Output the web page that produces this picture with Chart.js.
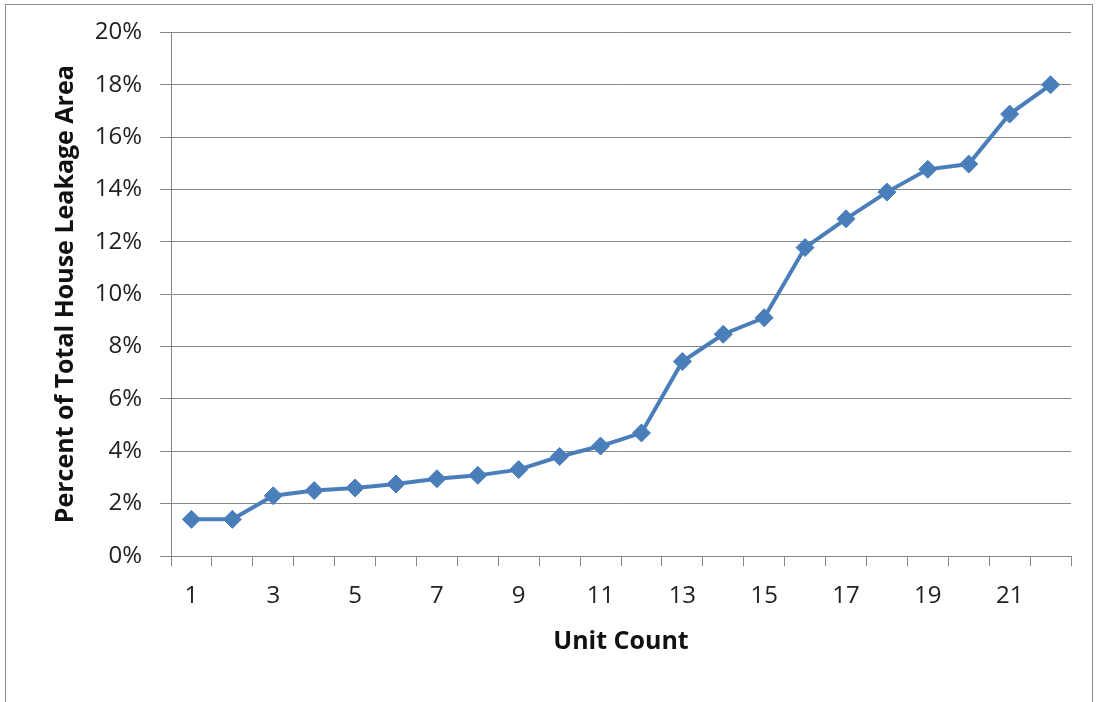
<!DOCTYPE html>
<html>
<head>
<meta charset="utf-8">
<script src="https://cdn.jsdelivr.net/npm/chart.js@4"></script>
<style>
    html, body { margin: 0; padding: 0; background: #fff; }
    #wrap { position: relative; width: 1096px; height: 702px; }
    #frame { position: absolute; left: 5px; top: 4px; width: 1086px; height: 710px; border: 1px solid #8c8c8c; }
    #chart { position: absolute; left: 0; top: 0; }
</style>
</head>
<body>
<div id="wrap">
    <div id="frame"></div>
    <canvas id="chart" width="1096" height="702"></canvas>
</div>
<script>
// unit count categories 1..22
const unitLabels = ['1', '2', '3', '4', '5', '6', '7', '8', '9', '10', '11',
    '12', '13', '14', '15', '16', '17', '18', '19', '20', '21', '22'];

// percent of total house leakage area
const leakagePct = [1.4, 1.4, 2.3, 2.5, 2.6, 2.75, 2.95, 3.08, 3.3, 3.8, 4.2,
    4.7, 7.43, 8.47, 9.1, 11.78, 12.88, 13.9, 14.77, 14.97, 16.88, 18.0];

const yTicks = [0, 2, 4, 6, 8, 10, 12, 14, 16, 18, 20];

const gridGray = '#868686';
const lineBlue = '#4a7ebb';

const ctx = document.getElementById('chart').getContext('2d');
new Chart(ctx, {
    type: 'line',
    data: {
        labels: unitLabels,
        datasets: [{
            label: 'Leakage',
            data: leakagePct,
            borderColor: lineBlue,
            backgroundColor: lineBlue,
            borderWidth: 4,
            pointStyle: 'rectRot',
            pointRadius: 9,
            pointBorderWidth: 1,
            pointBackgroundColor: lineBlue,
            pointBorderColor: lineBlue,
            tension: 0
        }]
    },
    options: {
        responsive: false,
        animation: false,
        devicePixelRatio: 1,
        layout: {
            padding: { left: 0, top: 32, right: 25, bottom: 0 }
        },
        plugins: {
            legend: { display: false },
            tooltip: { enabled: false }
        },
        scales: {
            x: {
                offset: true,
                grid: {
                    offset: true,
                    drawOnChartArea: false,
                    drawTicks: true,
                    tickLength: 10,
                    color: gridGray
                },
                border: { color: gridGray, width: 1 },
                ticks: {
                    autoSkip: false,
                    maxRotation: 0,
                    padding: 16,
                    color: '#222',
                    font: { family: 'Open Sans', size: 24 },
                    callback: function (value, index) {
                        return index % 2 === 0 ? unitLabels[index] : '';
                    }
                },
                title: {
                    display: true,
                    text: 'Unit Count',
                    color: '#111',
                    font: { family: 'Open Sans', size: 25, weight: 'bold' },
                    padding: { top: 0, bottom: 45 }
                },
                afterFit: function (scale) {
                    scale.height = 146;
                }
            },
            y: {
                min: 0,
                max: 20,
                afterBuildTicks: function (scale) {
                    scale.ticks = yTicks.map(v => ({ value: v }));
                },
                grid: {
                    color: gridGray,
                    lineWidth: 1,
                    tickLength: 11
                },
                border: { color: gridGray, width: 1 },
                ticks: {
                    padding: 18,
                    color: '#222',
                    font: { family: 'Open Sans', size: 24 },
                    callback: function (value) {
                        return value + '%';
                    }
                },
                title: {
                    display: true,
                    text: 'Percent of Total House Leakage Area',
                    color: '#111',
                    font: { family: 'Open Sans', size: 25, weight: 'bold' },
                    padding: { top: 51, bottom: 0 }
                },
                afterFit: function (scale) {
                    scale.width = 171;
                }
            }
        }
    }
});
</script>
</body>
</html>
